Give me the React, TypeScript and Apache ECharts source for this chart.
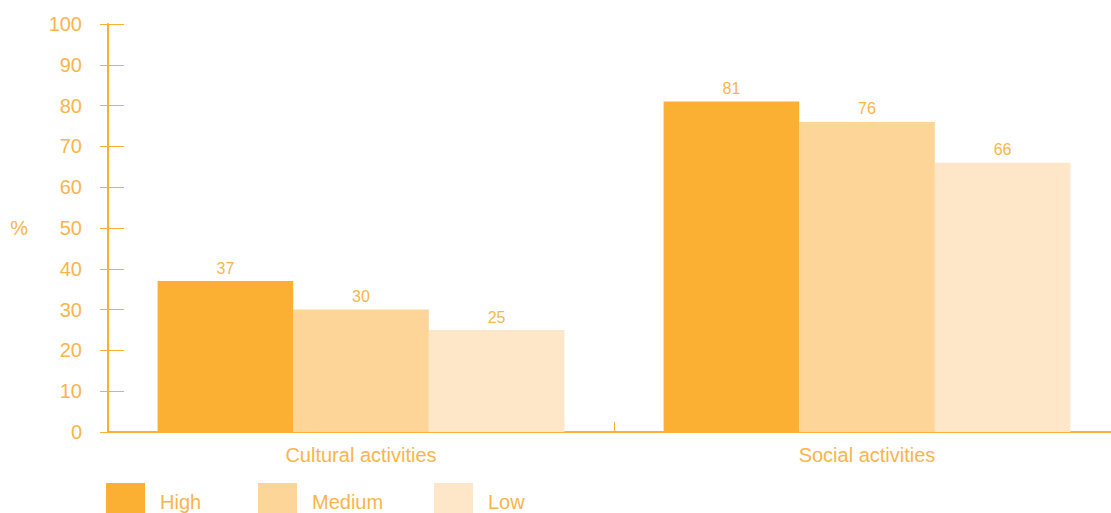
import React, { useEffect, useRef } from "react";
import * as echarts from "echarts";

const categories = ["Cultural activities", "Social activities"];
const seriesNames = ["High", "Medium", "Low"];
const highValues = [37, 81];
const mediumValues = [30, 76];
const lowValues = [25, 66];
const colors = ["#FBB034", "#FDD598", "#FEE7C8"];
const textColor = "#F9B54A";
const axisColor = "#FBB034";
const font = "Liberation Sans, Arial, sans-serif";

export default function App() {
  const ref = useRef<HTMLDivElement>(null);
  useEffect(() => {
    if (!ref.current) return;
    const chart = echarts.init(ref.current, undefined, { renderer: "svg" });
    const values = [highValues, mediumValues, lowValues];
    const legendLefts = [106, 258, 434];
    chart.setOption({
      animation: false,
      textStyle: { fontFamily: font },
      grid: { left: 108, top: 24, width: 1012, height: 408 },
      legend: seriesNames.map((n, i) => ({
        data: [n],
        left: legendLefts[i],
        top: 483,
        padding: 0,
        itemWidth: 39,
        itemHeight: 38,
        icon: "rect",
        selectedMode: false,
        textStyle: { color: textColor, fontSize: 20, fontFamily: font, padding: [0, 0, 0, 10] },
      })),
      xAxis: {
        type: "category",
        data: categories,
        axisLine: { lineStyle: { color: axisColor, width: 2 } },
        axisTick: { show: true, inside: true, length: 10, lineStyle: { color: axisColor, width: 1 } },
        axisLabel: { color: textColor, fontSize: 20, margin: 13, fontFamily: font },
      },
      yAxis: [
        {
          type: "value",
          min: 0,
          max: 100,
          interval: 10,
          name: "%",
          nameLocation: "middle",
          nameRotate: 0,
          nameGap: 80,
          nameTextStyle: { color: textColor, fontSize: 20, fontFamily: font },
          axisLine: { show: true, lineStyle: { color: axisColor, width: 2 } },
          axisTick: { show: true, length: 8, lineStyle: { color: axisColor, width: 1 } },
          axisLabel: { color: textColor, fontSize: 20, margin: 26, fontFamily: font },
          splitLine: { show: false },
        },
        {
          type: "value",
          min: 0,
          max: 100,
          interval: 10,
          position: "left",
          axisLine: { show: false },
          axisTick: { show: true, inside: true, length: 16, lineStyle: { color: axisColor, width: 1 } },
          axisLabel: { show: false },
          splitLine: { show: false },
        },
      ],
      series: seriesNames.map((n, i) => ({
        name: n,
        type: "bar",
        data: values[i],
        barGap: "0%",
        barCategoryGap: "19.6%",
        itemStyle: { color: colors[i] },
        label: {
          show: true,
          position: "top",
          distance: 5,
          color: textColor,
          fontSize: 16,
          fontFamily: font,
        },
      })),
    });
    return () => chart.dispose();
  }, []);
  return (
    <div style={{ position: "fixed", left: 0, top: 0, width: 1111, height: 513, overflow: "hidden", background: "#fff" }}>
      <div ref={ref} style={{ width: 1120, height: 513 }} />
    </div>
  );
}
